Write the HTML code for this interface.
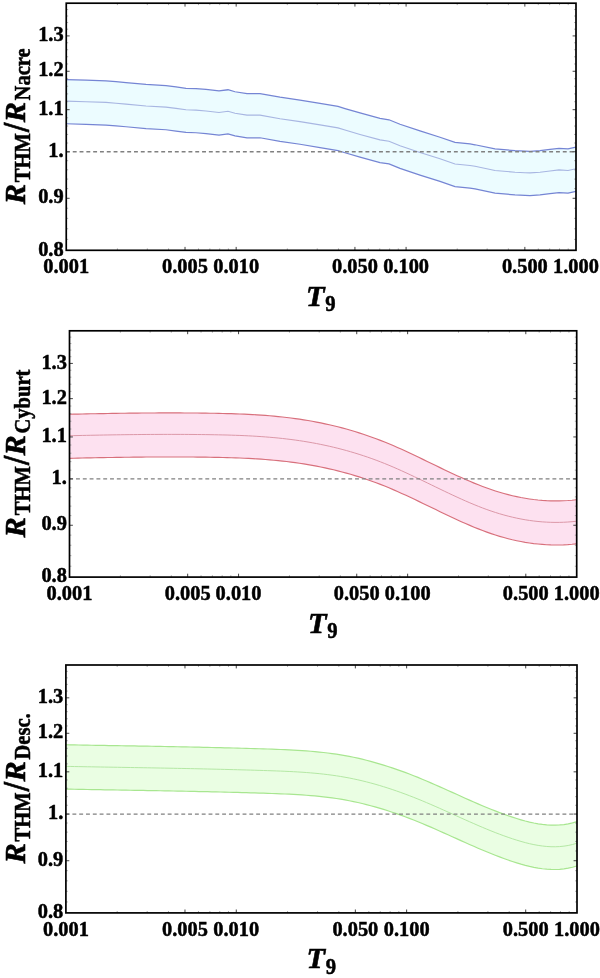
<!DOCTYPE html>
<html><head><meta charset="utf-8"><title>R ratio plots</title>
<style>
html,body{margin:0;padding:0;background:#fff;}
svg{display:block;}
text{font-family:"Liberation Serif","DejaVu Serif",serif;font-weight:bold;fill:#000;stroke:#000;stroke-width:0.5px;}
.tl{font-size:20.4px;}
.ax{font-size:30.3px;}
.it{font-style:italic;}
.sb{font-size:22px;font-style:normal;}
.ax{stroke-width:0.6px;}
.sl{font-size:37.5px;stroke-width:0.6px;}
</style></head><body>
<svg width="600" height="978" viewBox="0 0 600 978">
<rect x="0" y="0" width="600" height="978" fill="#fff"/>
<polygon points="66.1,79.56 86,80.16 106,80.86 116,81.66 126,82.56 146,84.46 166,85.56 176,86.86 186,88.26 196,88.56 206,89.46 219,90.96 228,89.76 235,91.76 247,93.56 260,93.56 280,97.16 300,100.06 320,103.36 338,106.36 345,108.56 360,112.96 380,118.36 389,119.76 400,124.26 420,130.86 440,137.26 455,142.46 470,143.96 475,144.76 495,148.96 515,150.66 525,151.16 530,151.36 540,150.66 550,149.46 559,148.36 568,148.96 576,147.16 576,191.35 568,193.15 559,192.55 550,193.65 540,194.85 530,195.55 525,195.35 515,194.85 495,193.15 475,188.95 470,188.15 455,186.65 440,181.45 420,175.05 400,168.45 389,163.95 380,162.55 360,157.15 345,152.75 338,150.55 320,147.55 300,144.25 280,141.35 260,137.75 247,137.75 235,135.95 228,133.95 219,135.15 206,133.65 196,132.75 186,132.45 176,131.05 166,129.75 146,128.65 126,126.75 116,125.85 106,125.05 86,124.35 66.1,123.75" fill="#ecfcff" stroke="none"/>
<polyline points="66.1,79.56 86,80.16 106,80.86 116,81.66 126,82.56 146,84.46 166,85.56 176,86.86 186,88.26 196,88.56 206,89.46 219,90.96 228,89.76 235,91.76 247,93.56 260,93.56 280,97.16 300,100.06 320,103.36 338,106.36 345,108.56 360,112.96 380,118.36 389,119.76 400,124.26 420,130.86 440,137.26 455,142.46 470,143.96 475,144.76 495,148.96 515,150.66 525,151.16 530,151.36 540,150.66 550,149.46 559,148.36 568,148.96 576,147.16" fill="none" stroke="#7585d4" stroke-width="1.25"/>
<polyline points="66.1,123.75 86,124.35 106,125.05 116,125.85 126,126.75 146,128.65 166,129.75 176,131.05 186,132.45 196,132.75 206,133.65 219,135.15 228,133.95 235,135.95 247,137.75 260,137.75 280,141.35 300,144.25 320,147.55 338,150.55 345,152.75 360,157.15 380,162.55 389,163.95 400,168.45 420,175.05 440,181.45 455,186.65 470,188.15 475,188.95 495,193.15 515,194.85 525,195.35 530,195.55 540,194.85 550,193.65 559,192.55 568,193.15 576,191.35" fill="none" stroke="#7585d4" stroke-width="1.25"/>
<polyline points="66.1,101.1 86,101.7 106,102.4 116,103.2 126,104.1 146,106 166,107.1 176,108.4 186,109.8 196,110.1 206,111 219,112.5 228,111.3 235,113.3 247,115.1 260,115.1 280,118.7 300,121.6 320,124.9 338,127.9 345,130.1 360,134.5 380,139.9 389,141.3 400,145.8 420,152.4 440,158.8 455,164 470,165.5 475,166.3 495,170.5 515,172.2 525,172.7 530,172.9 540,172.2 550,171 559,169.9 568,170.5 576,168.7" fill="none" stroke="#a8b6e2" stroke-width="1.1"/>
<line x1="65.95" y1="151.77" x2="576" y2="151.77" stroke="#808080" stroke-width="1.3" stroke-dasharray="3.9,2.906"/>
<path d="M185.02 250.3v-3.4 M185.02 3.2v3.4 M236.17 250.3v-3.4 M236.17 3.2v3.4 M354.93 250.3v-3.4 M354.93 3.2v3.4 M406.08 250.3v-3.4 M406.08 3.2v3.4 M524.85 250.3v-3.4 M524.85 3.2v3.4 M66.25 198.29h3.4 M576 198.29h-3.4 M66.25 151.77h3.4 M576 151.77h-3.4 M66.25 109.69h3.4 M576 109.69h-3.4 M66.25 71.27h3.4 M576 71.27h-3.4 M66.25 35.92h3.4 M576 35.92h-3.4" stroke="#444" stroke-width="1" fill="none"/>
<path d="M117.4 250.3v-1.9 M117.4 3.2v1.9 M147.32 250.3v-1.9 M147.32 3.2v1.9 M168.55 250.3v-1.9 M168.55 3.2v1.9 M198.47 250.3v-1.9 M198.47 3.2v1.9 M209.85 250.3v-1.9 M209.85 3.2v1.9 M219.7 250.3v-1.9 M219.7 3.2v1.9 M228.39 250.3v-1.9 M228.39 3.2v1.9 M287.32 250.3v-1.9 M287.32 3.2v1.9 M317.24 250.3v-1.9 M317.24 3.2v1.9 M338.47 250.3v-1.9 M338.47 3.2v1.9 M368.39 250.3v-1.9 M368.39 3.2v1.9 M379.76 250.3v-1.9 M379.76 3.2v1.9 M389.62 250.3v-1.9 M389.62 3.2v1.9 M398.31 250.3v-1.9 M398.31 3.2v1.9 M457.23 250.3v-1.9 M457.23 3.2v1.9 M487.15 250.3v-1.9 M487.15 3.2v1.9 M508.38 250.3v-1.9 M508.38 3.2v1.9 M538.3 250.3v-1.9 M538.3 3.2v1.9 M549.68 250.3v-1.9 M549.68 3.2v1.9 M559.53 250.3v-1.9 M559.53 3.2v1.9 M568.23 250.3v-1.9 M568.23 3.2v1.9 M66.25 239.4h1.9 M576 239.4h-1.9 M66.25 228.76h1.9 M576 228.76h-1.9 M66.25 218.37h1.9 M576 218.37h-1.9 M66.25 208.22h1.9 M576 208.22h-1.9 M66.25 188.59h1.9 M576 188.59h-1.9 M66.25 179.09h1.9 M576 179.09h-1.9 M66.25 169.8h1.9 M576 169.8h-1.9 M66.25 160.69h1.9 M576 160.69h-1.9 M66.25 143.03h1.9 M576 143.03h-1.9 M66.25 134.45h1.9 M576 134.45h-1.9 M66.25 126.04h1.9 M576 126.04h-1.9 M66.25 117.79h1.9 M576 117.79h-1.9 M66.25 101.73h1.9 M576 101.73h-1.9 M66.25 93.91h1.9 M576 93.91h-1.9 M66.25 86.24h1.9 M576 86.24h-1.9 M66.25 78.69h1.9 M576 78.69h-1.9 M66.25 63.97h1.9 M576 63.97h-1.9 M66.25 56.79h1.9 M576 56.79h-1.9 M66.25 49.72h1.9 M576 49.72h-1.9 M66.25 42.77h1.9 M576 42.77h-1.9 M66.25 29.18h1.9 M576 29.18h-1.9 M66.25 22.54h1.9 M576 22.54h-1.9 M66.25 16h1.9 M576 16h-1.9 M66.25 9.55h1.9 M576 9.55h-1.9" stroke="#999" stroke-width="0.8" fill="none"/>
<rect x="66.25" y="3.2" width="509.75" height="247.1" fill="none" stroke="#000" stroke-width="1.7"/>
<text class="tl" transform="translate(66.25,273.1) scale(1,1.045)" text-anchor="middle">0.001</text>
<text class="tl" transform="translate(185.02,273.1) scale(1,1.045)" text-anchor="middle">0.005</text>
<text class="tl" transform="translate(236.17,273.1) scale(1,1.045)" text-anchor="middle">0.010</text>
<text class="tl" transform="translate(354.93,273.1) scale(1,1.045)" text-anchor="middle">0.050</text>
<text class="tl" transform="translate(406.08,273.1) scale(1,1.045)" text-anchor="middle">0.100</text>
<text class="tl" transform="translate(524.85,273.1) scale(1,1.045)" text-anchor="middle">0.500</text>
<text class="tl" transform="translate(576,273.1) scale(1,1.045)" text-anchor="middle">1.000</text>
<text class="tl" transform="translate(63.65,255.5) scale(1,1.03)" text-anchor="end">0.8</text>
<text class="tl" transform="translate(63.65,203.49) scale(1,1.03)" text-anchor="end">0.9</text>
<text class="tl" transform="translate(63.65,156.97) scale(1,1.03)" text-anchor="end">1.</text>
<text class="tl" transform="translate(63.65,114.89) scale(1,1.03)" text-anchor="end">1.1</text>
<text class="tl" transform="translate(63.65,76.47) scale(1,1.03)" text-anchor="end">1.2</text>
<text class="tl" transform="translate(63.65,41.12) scale(1,1.03)" text-anchor="end">1.3</text>
<text class="ax it" x="306.12" y="305.8">T</text>
<text class="sb" transform="translate(325.32,311.3) scale(0.94,1.06)">9</text>
<g transform="translate(24.8,204.62) rotate(-90)">
<text class="ax it" x="0.3" y="0">R</text>
<text class="sb" transform="translate(22.4,4.8) scale(0.935,1.03)">THM</text>
<text class="sl" transform="translate(72.6,4.4) scale(0.88,1)">/</text>
<text class="ax it" x="82.3" y="0">R</text>
<text class="sb" transform="translate(104.2,4.8) scale(0.935,1.03)">Nacre</text>
</g>
<polygon points="69.5,414.26 73.76,414.16 78.02,414.07 82.28,413.98 86.54,413.89 90.79,413.8 95.05,413.72 99.31,413.64 103.57,413.56 107.83,413.49 112.09,413.42 116.35,413.35 120.61,413.29 124.86,413.23 129.12,413.17 133.38,413.12 137.64,413.08 141.9,413.04 146.16,413.01 150.42,412.98 154.68,412.95 158.94,412.93 163.19,412.92 167.45,412.91 171.71,412.91 175.97,412.92 180.23,412.93 184.49,412.95 188.75,412.97 193.01,413.01 197.26,413.04 201.52,413.09 205.78,413.15 210.04,413.21 214.3,413.28 218.56,413.36 222.82,413.45 227.08,413.56 231.34,413.68 235.59,413.82 239.85,413.98 244.11,414.16 248.37,414.36 252.63,414.59 256.89,414.84 261.15,415.12 265.41,415.43 269.66,415.78 273.92,416.15 278.18,416.56 282.44,417.01 286.7,417.49 290.96,418.02 295.22,418.58 299.48,419.19 303.74,419.85 307.99,420.55 312.25,421.3 316.51,422.09 320.77,422.93 325.03,423.83 329.29,424.77 333.55,425.76 337.81,426.81 342.06,427.91 346.32,429.06 350.58,430.27 354.84,431.53 359.1,432.85 363.36,434.23 367.62,435.67 371.88,437.17 376.14,438.73 380.39,440.35 384.65,442.03 388.91,443.78 393.17,445.58 397.43,447.44 401.69,449.35 405.95,451.29 410.21,453.27 414.46,455.28 418.72,457.31 422.98,459.36 427.24,461.42 431.5,463.49 435.76,465.55 440.02,467.61 444.28,469.66 448.54,471.69 452.79,473.69 457.05,475.66 461.31,477.6 465.57,479.49 469.83,481.34 474.09,483.12 478.35,484.84 482.61,486.5 486.86,488.07 491.12,489.57 495.38,490.97 499.64,492.29 503.9,493.52 508.16,494.66 512.42,495.7 516.68,496.65 520.94,497.52 525.19,498.28 529.45,498.95 533.71,499.53 537.97,500.01 542.23,500.39 546.49,500.67 550.75,500.85 555.01,500.93 559.26,500.91 563.52,500.78 567.78,500.55 572.04,500.22 576.3,499.78 576.3,543.83 572.04,544.27 567.78,544.6 563.52,544.83 559.26,544.96 555.01,544.98 550.75,544.9 546.49,544.72 542.23,544.43 537.97,544.05 533.71,543.58 529.45,543 525.19,542.33 520.94,541.56 516.68,540.7 512.42,539.75 508.16,538.7 503.9,537.57 499.64,536.34 495.38,535.02 491.12,533.61 486.86,532.12 482.61,530.54 478.35,528.89 474.09,527.17 469.83,525.38 465.57,523.54 461.31,521.65 457.05,519.71 452.79,517.74 448.54,515.74 444.28,513.71 440.02,511.66 435.76,509.6 431.5,507.54 427.24,505.47 422.98,503.41 418.72,501.36 414.46,499.33 410.21,497.32 405.95,495.34 401.69,493.4 397.43,491.49 393.17,489.63 388.91,487.83 384.65,486.08 380.39,484.4 376.14,482.78 371.88,481.22 367.62,479.72 363.36,478.28 359.1,476.9 354.84,475.58 350.58,474.32 346.32,473.11 342.06,471.96 337.81,470.86 333.55,469.81 329.29,468.82 325.03,467.88 320.77,466.98 316.51,466.14 312.25,465.35 307.99,464.6 303.74,463.9 299.48,463.24 295.22,462.63 290.96,462.07 286.7,461.54 282.44,461.06 278.18,460.61 273.92,460.2 269.66,459.82 265.41,459.48 261.15,459.17 256.89,458.89 252.63,458.64 248.37,458.41 244.11,458.21 239.85,458.03 235.59,457.87 231.34,457.73 227.08,457.61 222.82,457.5 218.56,457.41 214.3,457.33 210.04,457.26 205.78,457.19 201.52,457.14 197.26,457.09 193.01,457.05 188.75,457.02 184.49,457 180.23,456.98 175.97,456.97 171.71,456.96 167.45,456.96 163.19,456.97 158.94,456.98 154.68,457 150.42,457.02 146.16,457.05 141.9,457.09 137.64,457.13 133.38,457.17 129.12,457.22 124.86,457.28 120.61,457.34 116.35,457.4 112.09,457.46 107.83,457.53 103.57,457.61 99.31,457.69 95.05,457.77 90.79,457.85 86.54,457.94 82.28,458.03 78.02,458.12 73.76,458.21 69.5,458.31" fill="#fde1f0" stroke="none"/>
<polyline points="69.5,414.26 73.76,414.16 78.02,414.07 82.28,413.98 86.54,413.89 90.79,413.8 95.05,413.72 99.31,413.64 103.57,413.56 107.83,413.49 112.09,413.42 116.35,413.35 120.61,413.29 124.86,413.23 129.12,413.17 133.38,413.12 137.64,413.08 141.9,413.04 146.16,413.01 150.42,412.98 154.68,412.95 158.94,412.93 163.19,412.92 167.45,412.91 171.71,412.91 175.97,412.92 180.23,412.93 184.49,412.95 188.75,412.97 193.01,413.01 197.26,413.04 201.52,413.09 205.78,413.15 210.04,413.21 214.3,413.28 218.56,413.36 222.82,413.45 227.08,413.56 231.34,413.68 235.59,413.82 239.85,413.98 244.11,414.16 248.37,414.36 252.63,414.59 256.89,414.84 261.15,415.12 265.41,415.43 269.66,415.78 273.92,416.15 278.18,416.56 282.44,417.01 286.7,417.49 290.96,418.02 295.22,418.58 299.48,419.19 303.74,419.85 307.99,420.55 312.25,421.3 316.51,422.09 320.77,422.93 325.03,423.83 329.29,424.77 333.55,425.76 337.81,426.81 342.06,427.91 346.32,429.06 350.58,430.27 354.84,431.53 359.1,432.85 363.36,434.23 367.62,435.67 371.88,437.17 376.14,438.73 380.39,440.35 384.65,442.03 388.91,443.78 393.17,445.58 397.43,447.44 401.69,449.35 405.95,451.29 410.21,453.27 414.46,455.28 418.72,457.31 422.98,459.36 427.24,461.42 431.5,463.49 435.76,465.55 440.02,467.61 444.28,469.66 448.54,471.69 452.79,473.69 457.05,475.66 461.31,477.6 465.57,479.49 469.83,481.34 474.09,483.12 478.35,484.84 482.61,486.5 486.86,488.07 491.12,489.57 495.38,490.97 499.64,492.29 503.9,493.52 508.16,494.66 512.42,495.7 516.68,496.65 520.94,497.52 525.19,498.28 529.45,498.95 533.71,499.53 537.97,500.01 542.23,500.39 546.49,500.67 550.75,500.85 555.01,500.93 559.26,500.91 563.52,500.78 567.78,500.55 572.04,500.22 576.3,499.78" fill="none" stroke="#d8707c" stroke-width="1.15"/>
<polyline points="69.5,458.31 73.76,458.21 78.02,458.12 82.28,458.03 86.54,457.94 90.79,457.85 95.05,457.77 99.31,457.69 103.57,457.61 107.83,457.53 112.09,457.46 116.35,457.4 120.61,457.34 124.86,457.28 129.12,457.22 133.38,457.17 137.64,457.13 141.9,457.09 146.16,457.05 150.42,457.02 154.68,457 158.94,456.98 163.19,456.97 167.45,456.96 171.71,456.96 175.97,456.97 180.23,456.98 184.49,457 188.75,457.02 193.01,457.05 197.26,457.09 201.52,457.14 205.78,457.19 210.04,457.26 214.3,457.33 218.56,457.41 222.82,457.5 227.08,457.61 231.34,457.73 235.59,457.87 239.85,458.03 244.11,458.21 248.37,458.41 252.63,458.64 256.89,458.89 261.15,459.17 265.41,459.48 269.66,459.82 273.92,460.2 278.18,460.61 282.44,461.06 286.7,461.54 290.96,462.07 295.22,462.63 299.48,463.24 303.74,463.9 307.99,464.6 312.25,465.35 316.51,466.14 320.77,466.98 325.03,467.88 329.29,468.82 333.55,469.81 337.81,470.86 342.06,471.96 346.32,473.11 350.58,474.32 354.84,475.58 359.1,476.9 363.36,478.28 367.62,479.72 371.88,481.22 376.14,482.78 380.39,484.4 384.65,486.08 388.91,487.83 393.17,489.63 397.43,491.49 401.69,493.4 405.95,495.34 410.21,497.32 414.46,499.33 418.72,501.36 422.98,503.41 427.24,505.47 431.5,507.54 435.76,509.6 440.02,511.66 444.28,513.71 448.54,515.74 452.79,517.74 457.05,519.71 461.31,521.65 465.57,523.54 469.83,525.38 474.09,527.17 478.35,528.89 482.61,530.54 486.86,532.12 491.12,533.61 495.38,535.02 499.64,536.34 503.9,537.57 508.16,538.7 512.42,539.75 516.68,540.7 520.94,541.56 525.19,542.33 529.45,543 533.71,543.58 537.97,544.05 542.23,544.43 546.49,544.72 550.75,544.9 555.01,544.98 559.26,544.96 563.52,544.83 567.78,544.6 572.04,544.27 576.3,543.83" fill="none" stroke="#d8707c" stroke-width="1.15"/>
<polyline points="69.5,435.73 73.76,435.64 78.02,435.54 82.28,435.45 86.54,435.36 90.79,435.27 95.05,435.19 99.31,435.11 103.57,435.03 107.83,434.96 112.09,434.89 116.35,434.82 120.61,434.76 124.86,434.7 129.12,434.65 133.38,434.6 137.64,434.55 141.9,434.51 146.16,434.48 150.42,434.45 154.68,434.43 158.94,434.41 163.19,434.39 167.45,434.39 171.71,434.39 175.97,434.39 180.23,434.4 184.49,434.42 188.75,434.45 193.01,434.48 197.26,434.52 201.52,434.56 205.78,434.62 210.04,434.68 214.3,434.75 218.56,434.83 222.82,434.93 227.08,435.03 231.34,435.16 235.59,435.3 239.85,435.45 244.11,435.63 248.37,435.84 252.63,436.06 256.89,436.32 261.15,436.6 265.41,436.91 269.66,437.25 273.92,437.62 278.18,438.03 282.44,438.48 286.7,438.97 290.96,439.49 295.22,440.06 299.48,440.67 303.74,441.32 307.99,442.02 312.25,442.77 316.51,443.56 320.77,444.41 325.03,445.3 329.29,446.24 333.55,447.24 337.81,448.28 342.06,449.38 346.32,450.53 350.58,451.74 354.84,453.01 359.1,454.33 363.36,455.71 367.62,457.15 371.88,458.64 376.14,460.2 380.39,461.82 384.65,463.51 388.91,465.25 393.17,467.06 397.43,468.92 401.69,470.82 405.95,472.76 410.21,474.74 414.46,476.75 418.72,478.78 422.98,480.83 427.24,482.89 431.5,484.96 435.76,487.03 440.02,489.08 444.28,491.13 448.54,493.16 452.79,495.17 457.05,497.14 461.31,499.07 465.57,500.97 469.83,502.81 474.09,504.59 478.35,506.32 482.61,507.97 486.86,509.55 491.12,511.04 495.38,512.45 499.64,513.76 503.9,514.99 508.16,516.13 512.42,517.17 516.68,518.13 520.94,518.99 525.19,519.76 529.45,520.43 533.71,521 537.97,521.48 542.23,521.86 546.49,522.14 550.75,522.32 555.01,522.4 559.26,522.38 563.52,522.26 567.78,522.03 572.04,521.7 576.3,521.26" fill="none" stroke="#dc98a8" stroke-width="1.0"/>
<line x1="69.2" y1="478.89" x2="576.7" y2="478.89" stroke="#808080" stroke-width="1.3" stroke-dasharray="3.9,2.906"/>
<path d="M187.67 577.1v-3.4 M187.67 330.8v3.4 M238.57 577.1v-3.4 M238.57 330.8v3.4 M356.74 577.1v-3.4 M356.74 330.8v3.4 M407.63 577.1v-3.4 M407.63 330.8v3.4 M525.81 577.1v-3.4 M525.81 330.8v3.4 M69.5 525.26h3.4 M576.7 525.26h-3.4 M69.5 478.89h3.4 M576.7 478.89h-3.4 M69.5 436.94h3.4 M576.7 436.94h-3.4 M69.5 398.65h3.4 M576.7 398.65h-3.4 M69.5 363.42h3.4 M576.7 363.42h-3.4" stroke="#444" stroke-width="1" fill="none"/>
<path d="M120.39 577.1v-1.9 M120.39 330.8v1.9 M150.17 577.1v-1.9 M150.17 330.8v1.9 M171.29 577.1v-1.9 M171.29 330.8v1.9 M201.06 577.1v-1.9 M201.06 330.8v1.9 M212.38 577.1v-1.9 M212.38 330.8v1.9 M222.18 577.1v-1.9 M222.18 330.8v1.9 M230.83 577.1v-1.9 M230.83 330.8v1.9 M289.46 577.1v-1.9 M289.46 330.8v1.9 M319.23 577.1v-1.9 M319.23 330.8v1.9 M340.35 577.1v-1.9 M340.35 330.8v1.9 M370.13 577.1v-1.9 M370.13 330.8v1.9 M381.44 577.1v-1.9 M381.44 330.8v1.9 M391.25 577.1v-1.9 M391.25 330.8v1.9 M399.9 577.1v-1.9 M399.9 330.8v1.9 M458.53 577.1v-1.9 M458.53 330.8v1.9 M488.3 577.1v-1.9 M488.3 330.8v1.9 M509.42 577.1v-1.9 M509.42 330.8v1.9 M539.19 577.1v-1.9 M539.19 330.8v1.9 M550.51 577.1v-1.9 M550.51 330.8v1.9 M560.32 577.1v-1.9 M560.32 330.8v1.9 M568.96 577.1v-1.9 M568.96 330.8v1.9 M69.5 566.23h1.9 M576.7 566.23h-1.9 M69.5 555.63h1.9 M576.7 555.63h-1.9 M69.5 545.27h1.9 M576.7 545.27h-1.9 M69.5 535.15h1.9 M576.7 535.15h-1.9 M69.5 515.59h1.9 M576.7 515.59h-1.9 M69.5 506.12h1.9 M576.7 506.12h-1.9 M69.5 496.86h1.9 M576.7 496.86h-1.9 M69.5 487.78h1.9 M576.7 487.78h-1.9 M69.5 470.17h1.9 M576.7 470.17h-1.9 M69.5 461.63h1.9 M576.7 461.63h-1.9 M69.5 453.24h1.9 M576.7 453.24h-1.9 M69.5 445.02h1.9 M576.7 445.02h-1.9 M69.5 429.01h1.9 M576.7 429.01h-1.9 M69.5 421.22h1.9 M576.7 421.22h-1.9 M69.5 413.57h1.9 M576.7 413.57h-1.9 M69.5 406.04h1.9 M576.7 406.04h-1.9 M69.5 391.37h1.9 M576.7 391.37h-1.9 M69.5 384.21h1.9 M576.7 384.21h-1.9 M69.5 377.17h1.9 M576.7 377.17h-1.9 M69.5 370.24h1.9 M576.7 370.24h-1.9 M69.5 356.7h1.9 M576.7 356.7h-1.9 M69.5 350.08h1.9 M576.7 350.08h-1.9 M69.5 343.56h1.9 M576.7 343.56h-1.9 M69.5 337.13h1.9 M576.7 337.13h-1.9" stroke="#999" stroke-width="0.8" fill="none"/>
<rect x="69.5" y="330.8" width="507.2" height="246.3" fill="none" stroke="#000" stroke-width="1.7"/>
<text class="tl" transform="translate(69.5,599.9) scale(1,1.045)" text-anchor="middle">0.001</text>
<text class="tl" transform="translate(187.67,599.9) scale(1,1.045)" text-anchor="middle">0.005</text>
<text class="tl" transform="translate(238.57,599.9) scale(1,1.045)" text-anchor="middle">0.010</text>
<text class="tl" transform="translate(356.74,599.9) scale(1,1.045)" text-anchor="middle">0.050</text>
<text class="tl" transform="translate(407.63,599.9) scale(1,1.045)" text-anchor="middle">0.100</text>
<text class="tl" transform="translate(525.81,599.9) scale(1,1.045)" text-anchor="middle">0.500</text>
<text class="tl" transform="translate(576.7,599.9) scale(1,1.045)" text-anchor="middle">1.000</text>
<text class="tl" transform="translate(66.9,582.3) scale(1,1.03)" text-anchor="end">0.8</text>
<text class="tl" transform="translate(66.9,530.46) scale(1,1.03)" text-anchor="end">0.9</text>
<text class="tl" transform="translate(66.9,484.09) scale(1,1.03)" text-anchor="end">1.</text>
<text class="tl" transform="translate(66.9,442.14) scale(1,1.03)" text-anchor="end">1.1</text>
<text class="tl" transform="translate(66.9,403.85) scale(1,1.03)" text-anchor="end">1.2</text>
<text class="tl" transform="translate(66.9,368.62) scale(1,1.03)" text-anchor="end">1.3</text>
<text class="ax it" x="308.1" y="632.6">T</text>
<text class="sb" transform="translate(327.3,638.1) scale(0.94,1.06)">9</text>
<g transform="translate(24.8,537.71) rotate(-90)">
<text class="ax it" x="0.3" y="0">R</text>
<text class="sb" transform="translate(22.4,4.8) scale(0.935,1.03)">THM</text>
<text class="sl" transform="translate(72.6,4.4) scale(0.88,1)">/</text>
<text class="ax it" x="82.3" y="0">R</text>
<text class="sb" transform="translate(104.2,4.8) scale(0.935,1.03)">Cyburt</text>
</g>
<polygon points="65.9,744.77 70.19,744.85 74.49,744.93 78.78,745.01 83.07,745.08 87.37,745.16 91.66,745.23 95.95,745.31 100.25,745.38 104.54,745.45 108.83,745.53 113.13,745.6 117.42,745.67 121.71,745.74 126.01,745.82 130.3,745.89 134.59,745.97 138.89,746.04 143.18,746.11 147.47,746.19 151.77,746.27 156.06,746.34 160.35,746.42 164.65,746.5 168.94,746.58 173.23,746.67 177.53,746.75 181.82,746.83 186.11,746.92 190.41,747.01 194.7,747.1 198.99,747.19 203.28,747.29 207.58,747.38 211.87,747.48 216.16,747.58 220.46,747.69 224.75,747.79 229.04,747.9 233.34,748.01 237.63,748.13 241.92,748.25 246.22,748.37 250.51,748.49 254.8,748.62 259.1,748.75 263.39,748.88 267.68,749.02 271.98,749.16 276.27,749.32 280.56,749.48 284.86,749.66 289.15,749.86 293.44,750.08 297.74,750.33 302.03,750.6 306.32,750.9 310.62,751.24 314.91,751.62 319.2,752.04 323.5,752.5 327.79,753.02 332.08,753.58 336.38,754.19 340.67,754.87 344.96,755.6 349.26,756.4 353.55,757.26 357.84,758.2 362.14,759.19 366.43,760.25 370.72,761.37 375.02,762.56 379.31,763.8 383.6,765.1 387.9,766.46 392.19,767.87 396.48,769.34 400.78,770.86 405.07,772.43 409.36,774.05 413.66,775.72 417.95,777.43 422.24,779.19 426.54,781 430.83,782.84 435.12,784.71 439.42,786.6 443.71,788.52 448,790.44 452.29,792.38 456.59,794.32 460.88,796.25 465.17,798.18 469.47,800.09 473.76,801.98 478.05,803.85 482.35,805.68 486.64,807.48 490.93,809.23 495.23,810.93 499.52,812.58 503.81,814.17 508.11,815.7 512.4,817.15 516.69,818.52 520.99,819.81 525.28,821 529.57,822.07 533.87,823 538.16,823.79 542.45,824.41 546.75,824.86 551.04,825.11 555.33,825.15 559.63,824.96 563.92,824.54 568.21,823.86 572.51,822.9 576.8,821.66 576.8,866 572.51,867.24 568.21,868.19 563.92,868.87 559.63,869.3 555.33,869.48 551.04,869.44 546.75,869.19 542.45,868.75 538.16,868.13 533.87,867.34 529.57,866.4 525.28,865.33 520.99,864.15 516.69,862.86 512.4,861.48 508.11,860.03 503.81,858.51 499.52,856.92 495.23,855.27 490.93,853.56 486.64,851.81 482.35,850.01 478.05,848.18 473.76,846.32 469.47,844.43 465.17,842.51 460.88,840.59 456.59,838.65 452.29,836.71 448,834.78 443.71,832.85 439.42,830.94 435.12,829.04 430.83,827.17 426.54,825.33 422.24,823.53 417.95,821.77 413.66,820.05 409.36,818.38 405.07,816.76 400.78,815.19 396.48,813.67 392.19,812.21 387.9,810.79 383.6,809.44 379.31,808.13 375.02,806.89 370.72,805.71 366.43,804.59 362.14,803.53 357.84,802.53 353.55,801.6 349.26,800.74 344.96,799.94 340.67,799.2 336.38,798.53 332.08,797.91 327.79,797.35 323.5,796.84 319.2,796.38 314.91,795.96 310.62,795.58 306.32,795.24 302.03,794.93 297.74,794.66 293.44,794.42 289.15,794.19 284.86,794 280.56,793.82 276.27,793.65 271.98,793.5 267.68,793.36 263.39,793.22 259.1,793.08 254.8,792.95 250.51,792.83 246.22,792.7 241.92,792.58 237.63,792.46 233.34,792.35 229.04,792.24 224.75,792.13 220.46,792.02 216.16,791.92 211.87,791.82 207.58,791.72 203.28,791.62 198.99,791.53 194.7,791.44 190.41,791.35 186.11,791.26 181.82,791.17 177.53,791.08 173.23,791 168.94,790.92 164.65,790.84 160.35,790.76 156.06,790.68 151.77,790.6 147.47,790.53 143.18,790.45 138.89,790.37 134.59,790.3 130.3,790.23 126.01,790.15 121.71,790.08 117.42,790.01 113.13,789.93 108.83,789.86 104.54,789.79 100.25,789.71 95.95,789.64 91.66,789.57 87.37,789.49 83.07,789.42 78.78,789.34 74.49,789.26 70.19,789.19 65.9,789.11" fill="#eafee3" stroke="none"/>
<polyline points="65.9,744.77 70.19,744.85 74.49,744.93 78.78,745.01 83.07,745.08 87.37,745.16 91.66,745.23 95.95,745.31 100.25,745.38 104.54,745.45 108.83,745.53 113.13,745.6 117.42,745.67 121.71,745.74 126.01,745.82 130.3,745.89 134.59,745.97 138.89,746.04 143.18,746.11 147.47,746.19 151.77,746.27 156.06,746.34 160.35,746.42 164.65,746.5 168.94,746.58 173.23,746.67 177.53,746.75 181.82,746.83 186.11,746.92 190.41,747.01 194.7,747.1 198.99,747.19 203.28,747.29 207.58,747.38 211.87,747.48 216.16,747.58 220.46,747.69 224.75,747.79 229.04,747.9 233.34,748.01 237.63,748.13 241.92,748.25 246.22,748.37 250.51,748.49 254.8,748.62 259.1,748.75 263.39,748.88 267.68,749.02 271.98,749.16 276.27,749.32 280.56,749.48 284.86,749.66 289.15,749.86 293.44,750.08 297.74,750.33 302.03,750.6 306.32,750.9 310.62,751.24 314.91,751.62 319.2,752.04 323.5,752.5 327.79,753.02 332.08,753.58 336.38,754.19 340.67,754.87 344.96,755.6 349.26,756.4 353.55,757.26 357.84,758.2 362.14,759.19 366.43,760.25 370.72,761.37 375.02,762.56 379.31,763.8 383.6,765.1 387.9,766.46 392.19,767.87 396.48,769.34 400.78,770.86 405.07,772.43 409.36,774.05 413.66,775.72 417.95,777.43 422.24,779.19 426.54,781 430.83,782.84 435.12,784.71 439.42,786.6 443.71,788.52 448,790.44 452.29,792.38 456.59,794.32 460.88,796.25 465.17,798.18 469.47,800.09 473.76,801.98 478.05,803.85 482.35,805.68 486.64,807.48 490.93,809.23 495.23,810.93 499.52,812.58 503.81,814.17 508.11,815.7 512.4,817.15 516.69,818.52 520.99,819.81 525.28,821 529.57,822.07 533.87,823 538.16,823.79 542.45,824.41 546.75,824.86 551.04,825.11 555.33,825.15 559.63,824.96 563.92,824.54 568.21,823.86 572.51,822.9 576.8,821.66" fill="none" stroke="#a8e690" stroke-width="1.2"/>
<polyline points="65.9,789.11 70.19,789.19 74.49,789.26 78.78,789.34 83.07,789.42 87.37,789.49 91.66,789.57 95.95,789.64 100.25,789.71 104.54,789.79 108.83,789.86 113.13,789.93 117.42,790.01 121.71,790.08 126.01,790.15 130.3,790.23 134.59,790.3 138.89,790.37 143.18,790.45 147.47,790.53 151.77,790.6 156.06,790.68 160.35,790.76 164.65,790.84 168.94,790.92 173.23,791 177.53,791.08 181.82,791.17 186.11,791.26 190.41,791.35 194.7,791.44 198.99,791.53 203.28,791.62 207.58,791.72 211.87,791.82 216.16,791.92 220.46,792.02 224.75,792.13 229.04,792.24 233.34,792.35 237.63,792.46 241.92,792.58 246.22,792.7 250.51,792.83 254.8,792.95 259.1,793.08 263.39,793.22 267.68,793.36 271.98,793.5 276.27,793.65 280.56,793.82 284.86,794 289.15,794.19 293.44,794.42 297.74,794.66 302.03,794.93 306.32,795.24 310.62,795.58 314.91,795.96 319.2,796.38 323.5,796.84 327.79,797.35 332.08,797.91 336.38,798.53 340.67,799.2 344.96,799.94 349.26,800.74 353.55,801.6 357.84,802.53 362.14,803.53 366.43,804.59 370.72,805.71 375.02,806.89 379.31,808.13 383.6,809.44 387.9,810.79 392.19,812.21 396.48,813.67 400.78,815.19 405.07,816.76 409.36,818.38 413.66,820.05 417.95,821.77 422.24,823.53 426.54,825.33 430.83,827.17 435.12,829.04 439.42,830.94 443.71,832.85 448,834.78 452.29,836.71 456.59,838.65 460.88,840.59 465.17,842.51 469.47,844.43 473.76,846.32 478.05,848.18 482.35,850.01 486.64,851.81 490.93,853.56 495.23,855.27 499.52,856.92 503.81,858.51 508.11,860.03 512.4,861.48 516.69,862.86 520.99,864.15 525.28,865.33 529.57,866.4 533.87,867.34 538.16,868.13 542.45,868.75 546.75,869.19 551.04,869.44 555.33,869.48 559.63,869.3 563.92,868.87 568.21,868.19 572.51,867.24 576.8,866" fill="none" stroke="#a8e690" stroke-width="1.2"/>
<polyline points="65.9,766.39 70.19,766.46 74.49,766.54 78.78,766.62 83.07,766.69 87.37,766.77 91.66,766.84 95.95,766.92 100.25,766.99 104.54,767.07 108.83,767.14 113.13,767.21 117.42,767.28 121.71,767.36 126.01,767.43 130.3,767.5 134.59,767.58 138.89,767.65 143.18,767.73 147.47,767.8 151.77,767.88 156.06,767.96 160.35,768.04 164.65,768.12 168.94,768.2 173.23,768.28 177.53,768.36 181.82,768.45 186.11,768.53 190.41,768.62 194.7,768.71 198.99,768.81 203.28,768.9 207.58,769 211.87,769.1 216.16,769.2 220.46,769.3 224.75,769.41 229.04,769.52 233.34,769.63 237.63,769.74 241.92,769.86 246.22,769.98 250.51,770.1 254.8,770.23 259.1,770.36 263.39,770.5 267.68,770.63 271.98,770.78 276.27,770.93 280.56,771.09 284.86,771.27 289.15,771.47 293.44,771.69 297.74,771.94 302.03,772.21 306.32,772.52 310.62,772.86 314.91,773.24 319.2,773.65 323.5,774.12 327.79,774.63 332.08,775.19 336.38,775.81 340.67,776.48 344.96,777.22 349.26,778.01 353.55,778.88 357.84,779.81 362.14,780.81 366.43,781.86 370.72,782.99 375.02,784.17 379.31,785.41 383.6,786.71 387.9,788.07 392.19,789.48 396.48,790.95 400.78,792.47 405.07,794.04 409.36,795.66 413.66,797.33 417.95,799.04 422.24,800.81 426.54,802.61 430.83,804.45 435.12,806.32 439.42,808.21 443.71,810.13 448,812.06 452.29,813.99 456.59,815.93 460.88,817.87 465.17,819.79 469.47,821.7 473.76,823.59 478.05,825.46 482.35,827.29 486.64,829.09 490.93,830.84 495.23,832.55 499.52,834.2 503.81,835.78 508.11,837.31 512.4,838.76 516.69,840.14 520.99,841.42 525.28,842.61 529.57,843.68 533.87,844.62 538.16,845.4 542.45,846.03 546.75,846.47 551.04,846.72 555.33,846.76 559.63,846.58 563.92,846.15 568.21,845.47 572.51,844.51 576.8,843.27" fill="none" stroke="#b4e8a4" stroke-width="1.0"/>
<line x1="65.6" y1="814.05" x2="577" y2="814.05" stroke="#808080" stroke-width="1.3" stroke-dasharray="3.9,2.906"/>
<path d="M184.98 912.9v-3.4 M184.98 665v3.4 M236.27 912.9v-3.4 M236.27 665v3.4 M355.35 912.9v-3.4 M355.35 665v3.4 M406.63 912.9v-3.4 M406.63 665v3.4 M525.71 912.9v-3.4 M525.71 665v3.4 M65.9 860.72h3.4 M577 860.72h-3.4 M65.9 814.05h3.4 M577 814.05h-3.4 M65.9 771.83h3.4 M577 771.83h-3.4 M65.9 733.29h3.4 M577 733.29h-3.4 M65.9 697.83h3.4 M577 697.83h-3.4" stroke="#444" stroke-width="1" fill="none"/>
<path d="M117.19 912.9v-1.9 M117.19 665v1.9 M147.19 912.9v-1.9 M147.19 665v1.9 M168.47 912.9v-1.9 M168.47 665v1.9 M198.47 912.9v-1.9 M198.47 665v1.9 M209.88 912.9v-1.9 M209.88 665v1.9 M219.76 912.9v-1.9 M219.76 665v1.9 M228.47 912.9v-1.9 M228.47 665v1.9 M287.55 912.9v-1.9 M287.55 665v1.9 M317.55 912.9v-1.9 M317.55 665v1.9 M338.84 912.9v-1.9 M338.84 665v1.9 M368.84 912.9v-1.9 M368.84 665v1.9 M380.24 912.9v-1.9 M380.24 665v1.9 M390.12 912.9v-1.9 M390.12 665v1.9 M398.84 912.9v-1.9 M398.84 665v1.9 M457.92 912.9v-1.9 M457.92 665v1.9 M487.92 912.9v-1.9 M487.92 665v1.9 M509.2 912.9v-1.9 M509.2 665v1.9 M539.2 912.9v-1.9 M539.2 665v1.9 M550.61 912.9v-1.9 M550.61 665v1.9 M560.49 912.9v-1.9 M560.49 665v1.9 M569.2 912.9v-1.9 M569.2 665v1.9 M65.9 901.96h1.9 M577 901.96h-1.9 M65.9 891.29h1.9 M577 891.29h-1.9 M65.9 880.86h1.9 M577 880.86h-1.9 M65.9 870.68h1.9 M577 870.68h-1.9 M65.9 850.99h1.9 M577 850.99h-1.9 M65.9 841.46h1.9 M577 841.46h-1.9 M65.9 832.13h1.9 M577 832.13h-1.9 M65.9 823h1.9 M577 823h-1.9 M65.9 805.28h1.9 M577 805.28h-1.9 M65.9 796.68h1.9 M577 796.68h-1.9 M65.9 788.24h1.9 M577 788.24h-1.9 M65.9 779.96h1.9 M577 779.96h-1.9 M65.9 763.85h1.9 M577 763.85h-1.9 M65.9 756.01h1.9 M577 756.01h-1.9 M65.9 748.3h1.9 M577 748.3h-1.9 M65.9 740.73h1.9 M577 740.73h-1.9 M65.9 725.96h1.9 M577 725.96h-1.9 M65.9 718.76h1.9 M577 718.76h-1.9 M65.9 711.67h1.9 M577 711.67h-1.9 M65.9 704.7h1.9 M577 704.7h-1.9 M65.9 691.07h1.9 M577 691.07h-1.9 M65.9 684.4h1.9 M577 684.4h-1.9 M65.9 677.84h1.9 M577 677.84h-1.9 M65.9 671.37h1.9 M577 671.37h-1.9" stroke="#999" stroke-width="0.8" fill="none"/>
<rect x="65.9" y="665" width="511.1" height="247.9" fill="none" stroke="#000" stroke-width="1.7"/>
<text class="tl" transform="translate(65.9,935.7) scale(1,1.045)" text-anchor="middle">0.001</text>
<text class="tl" transform="translate(184.98,935.7) scale(1,1.045)" text-anchor="middle">0.005</text>
<text class="tl" transform="translate(236.27,935.7) scale(1,1.045)" text-anchor="middle">0.010</text>
<text class="tl" transform="translate(355.35,935.7) scale(1,1.045)" text-anchor="middle">0.050</text>
<text class="tl" transform="translate(406.63,935.7) scale(1,1.045)" text-anchor="middle">0.100</text>
<text class="tl" transform="translate(525.71,935.7) scale(1,1.045)" text-anchor="middle">0.500</text>
<text class="tl" transform="translate(577,935.7) scale(1,1.045)" text-anchor="middle">1.000</text>
<text class="tl" transform="translate(63.3,918.1) scale(1,1.03)" text-anchor="end">0.8</text>
<text class="tl" transform="translate(63.3,865.92) scale(1,1.03)" text-anchor="end">0.9</text>
<text class="tl" transform="translate(63.3,819.25) scale(1,1.03)" text-anchor="end">1.</text>
<text class="tl" transform="translate(63.3,777.03) scale(1,1.03)" text-anchor="end">1.1</text>
<text class="tl" transform="translate(63.3,738.49) scale(1,1.03)" text-anchor="end">1.2</text>
<text class="tl" transform="translate(63.3,703.03) scale(1,1.03)" text-anchor="end">1.3</text>
<text class="ax it" x="306.45" y="968.4">T</text>
<text class="sb" transform="translate(325.65,973.9) scale(0.94,1.06)">9</text>
<g transform="translate(24.8,863.78) rotate(-90)">
<text class="ax it" x="0.3" y="0">R</text>
<text class="sb" transform="translate(22.4,4.8) scale(0.935,1.03)">THM</text>
<text class="sl" transform="translate(72.6,4.4) scale(0.88,1)">/</text>
<text class="ax it" x="82.3" y="0">R</text>
<text class="sb" transform="translate(104.2,4.8) scale(0.935,1.03)">Desc.</text>
</g>
</svg>
</body></html>
